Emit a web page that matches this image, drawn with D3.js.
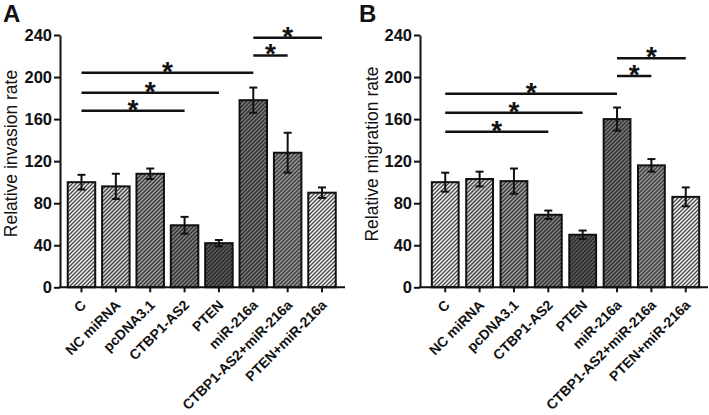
<!DOCTYPE html>
<html><head><meta charset="utf-8">
<script src="https://cdn.jsdelivr.net/npm/d3@7"></script>
<style>body{margin:0;background:#fff} svg{display:block} text{font-family:Arial,"Liberation Sans",sans-serif}</style>
</head><body><svg id="c" width="709" height="415"></svg>
<script>
const categories = ["C","NC miRNA","pcDNA3.1","CTBP1-AS2","PTEN","miR-216a","CTBP1-AS2+miR-216a","PTEN+miR-216a"];
const invasionMean = [100,96,108,59,42,178,128,90];
const invasionErr  = [7,12,5,8,3,12,19,5];
const migrationMean = [100,103,101,69,50,160,116,86];
const migrationErr  = [9,7,12,4,4,11,6,9];
const yTicks = [0,40,80,120,160,200,240];
const invasionSigFrom = ["C","C","C","miR-216a","miR-216a"];
const invasionSigTo   = ["CTBP1-AS2","PTEN","miR-216a","CTBP1-AS2+miR-216a","PTEN+miR-216a"];
const invasionSigY    = [168,185,204,220.5,237.5];
const migrationSigFrom = ["C","C","C","miR-216a","miR-216a"];
const migrationSigTo   = ["CTBP1-AS2","PTEN","miR-216a","CTBP1-AS2+miR-216a","PTEN+miR-216a"];
const migrationSigY    = [148,166,184,201,218];

const patternBg = ["#f6f6f6","#d6d6d6","#a2a2a2","#858585","#5e5e5e","#7c7c7c","#989898","#f8f8f8"];
const patternFg = ["#4a4a4a","#444","#363636","#303030","#262626","#303030","#3c3c3c","#4a4a4a"];

const svg = d3.select("#c");
const defs = svg.append("defs");
categories.forEach((c,i)=>{
  const p = defs.append("pattern").attr("id","pat"+i).attr("patternUnits","userSpaceOnUse")
    .attr("width",4).attr("height",4);
  p.append("rect").attr("width",4).attr("height",4).attr("fill",patternBg[i]);
  p.append("path").attr("d","M-1,1 L1,-1 M0,4 L4,0 M3,5 L5,3")
    .attr("stroke",patternFg[i]).attr("stroke-width",1.4);
});

function panel(cfg){
  const g = svg.append("g");
  const y = d3.scaleLinear().domain([0,240]).range([287.3,35]);
  const x = d3.scaleBand().domain(categories).range(cfg.bandRange).paddingInner(cfg.padIn).paddingOuter(0.1);
  const data = categories.map((c,i)=>({c,i,m:cfg.mean[i],e:cfg.err[i]}));

  g.selectAll("rect.bar").data(data).join("rect").attr("class","bar")
    .attr("x",d=>x(d.c)).attr("width",x.bandwidth())
    .attr("y",d=>y(d.m)).attr("height",d=>y(0)-y(d.m))
    .attr("fill",d=>"url(#pat"+d.i+")").attr("stroke","#111").attr("stroke-width",2);

  const eb = g.selectAll("g.eb").data(data).join("g").attr("class","eb")
    .attr("stroke","#111").attr("stroke-width",2);
  eb.append("line").attr("x1",d=>x(d.c)+x.bandwidth()/2).attr("x2",d=>x(d.c)+x.bandwidth()/2)
    .attr("y1",d=>y(d.m-d.e)).attr("y2",d=>y(d.m+d.e));
  eb.append("line").attr("x1",d=>x(d.c)+x.bandwidth()/2-4).attr("x2",d=>x(d.c)+x.bandwidth()/2+4)
    .attr("y1",d=>y(d.m+d.e)).attr("y2",d=>y(d.m+d.e));
  eb.append("line").attr("x1",d=>x(d.c)+x.bandwidth()/2-4).attr("x2",d=>x(d.c)+x.bandwidth()/2+4)
    .attr("y1",d=>y(d.m-d.e)).attr("y2",d=>y(d.m-d.e));

  const ya = g.append("g").attr("transform",`translate(${cfg.axisX},0)`)
    .call(d3.axisLeft(y).tickValues(yTicks).tickSize(6).tickSizeOuter(0).tickPadding(2));
  ya.select(".domain").attr("stroke","#111").attr("stroke-width",2);
  ya.selectAll(".tick line").attr("stroke","#111").attr("stroke-width",2);
  ya.selectAll(".tick text").attr("font-size",16.5).attr("font-weight","bold").attr("fill","#111")
    .attr("font-family","Arial, 'Liberation Sans', sans-serif");

  g.append("line").attr("x1",cfg.axisX-1).attr("x2",cfg.xEnd).attr("y1",y(0)).attr("y2",y(0))
    .attr("stroke","#111").attr("stroke-width",2);
  g.selectAll("line.xt").data(categories).join("line").attr("class","xt")
    .attr("x1",c=>x(c)+x.bandwidth()/2).attr("x2",c=>x(c)+x.bandwidth()/2)
    .attr("y1",y(0)).attr("y2",y(0)+5).attr("stroke","#111").attr("stroke-width",2);
  g.selectAll("text.xl").data(categories).join("text").attr("class","xl")
    .attr("transform",c=>`translate(${x(c)+x.bandwidth()/2+5.5},306) rotate(-45)`)
    .attr("text-anchor","end").attr("font-size",14).attr("font-weight","bold").attr("fill","#111")
    .text(c=>c);

  g.append("text").attr("transform",`translate(${cfg.titleX},${cfg.titleY}) rotate(-90)`)
    .attr("text-anchor","middle").attr("font-size",17.5).attr("fill","#111").text(cfg.title);

  g.append("text").attr("x",cfg.letterX).attr("y",22).attr("font-size",24).attr("font-weight","bold")
    .attr("fill","#111").text(cfg.letter);

  const cx = c=>x(c)+x.bandwidth()/2;
  cfg.sigFrom.forEach((f,k)=>{
    const t = cfg.sigTo[k], yy = y(cfg.sigY[k]);
    g.append("line").attr("x1",cx(f)).attr("x2",cx(t)).attr("y1",yy).attr("y2",yy)
      .attr("stroke","#111").attr("stroke-width",2.5);
    g.append("text").attr("x",(cx(f)+cx(t))/2).attr("y",yy+8).attr("text-anchor","middle")
      .attr("font-size",28).attr("font-weight","bold").attr("fill","#111").text("*");
  });
}

panel({mean:invasionMean, err:invasionErr, bandRange:[64.3,339.2], padIn:0.2, axisX:60, xEnd:345,
  title:"Relative invasion rate", titleX:16.7, titleY:153.5, letter:"A", letterX:3,
  sigFrom:invasionSigFrom, sigTo:invasionSigTo, sigY:invasionSigY});
panel({mean:migrationMean, err:migrationErr, bandRange:[428.4,702.6], padIn:0.22, axisX:420, xEnd:708,
  title:"Relative migration rate", titleX:378.3, titleY:154, letter:"B", letterX:359,
  sigFrom:migrationSigFrom, sigTo:migrationSigTo, sigY:migrationSigY});
</script></body></html>
